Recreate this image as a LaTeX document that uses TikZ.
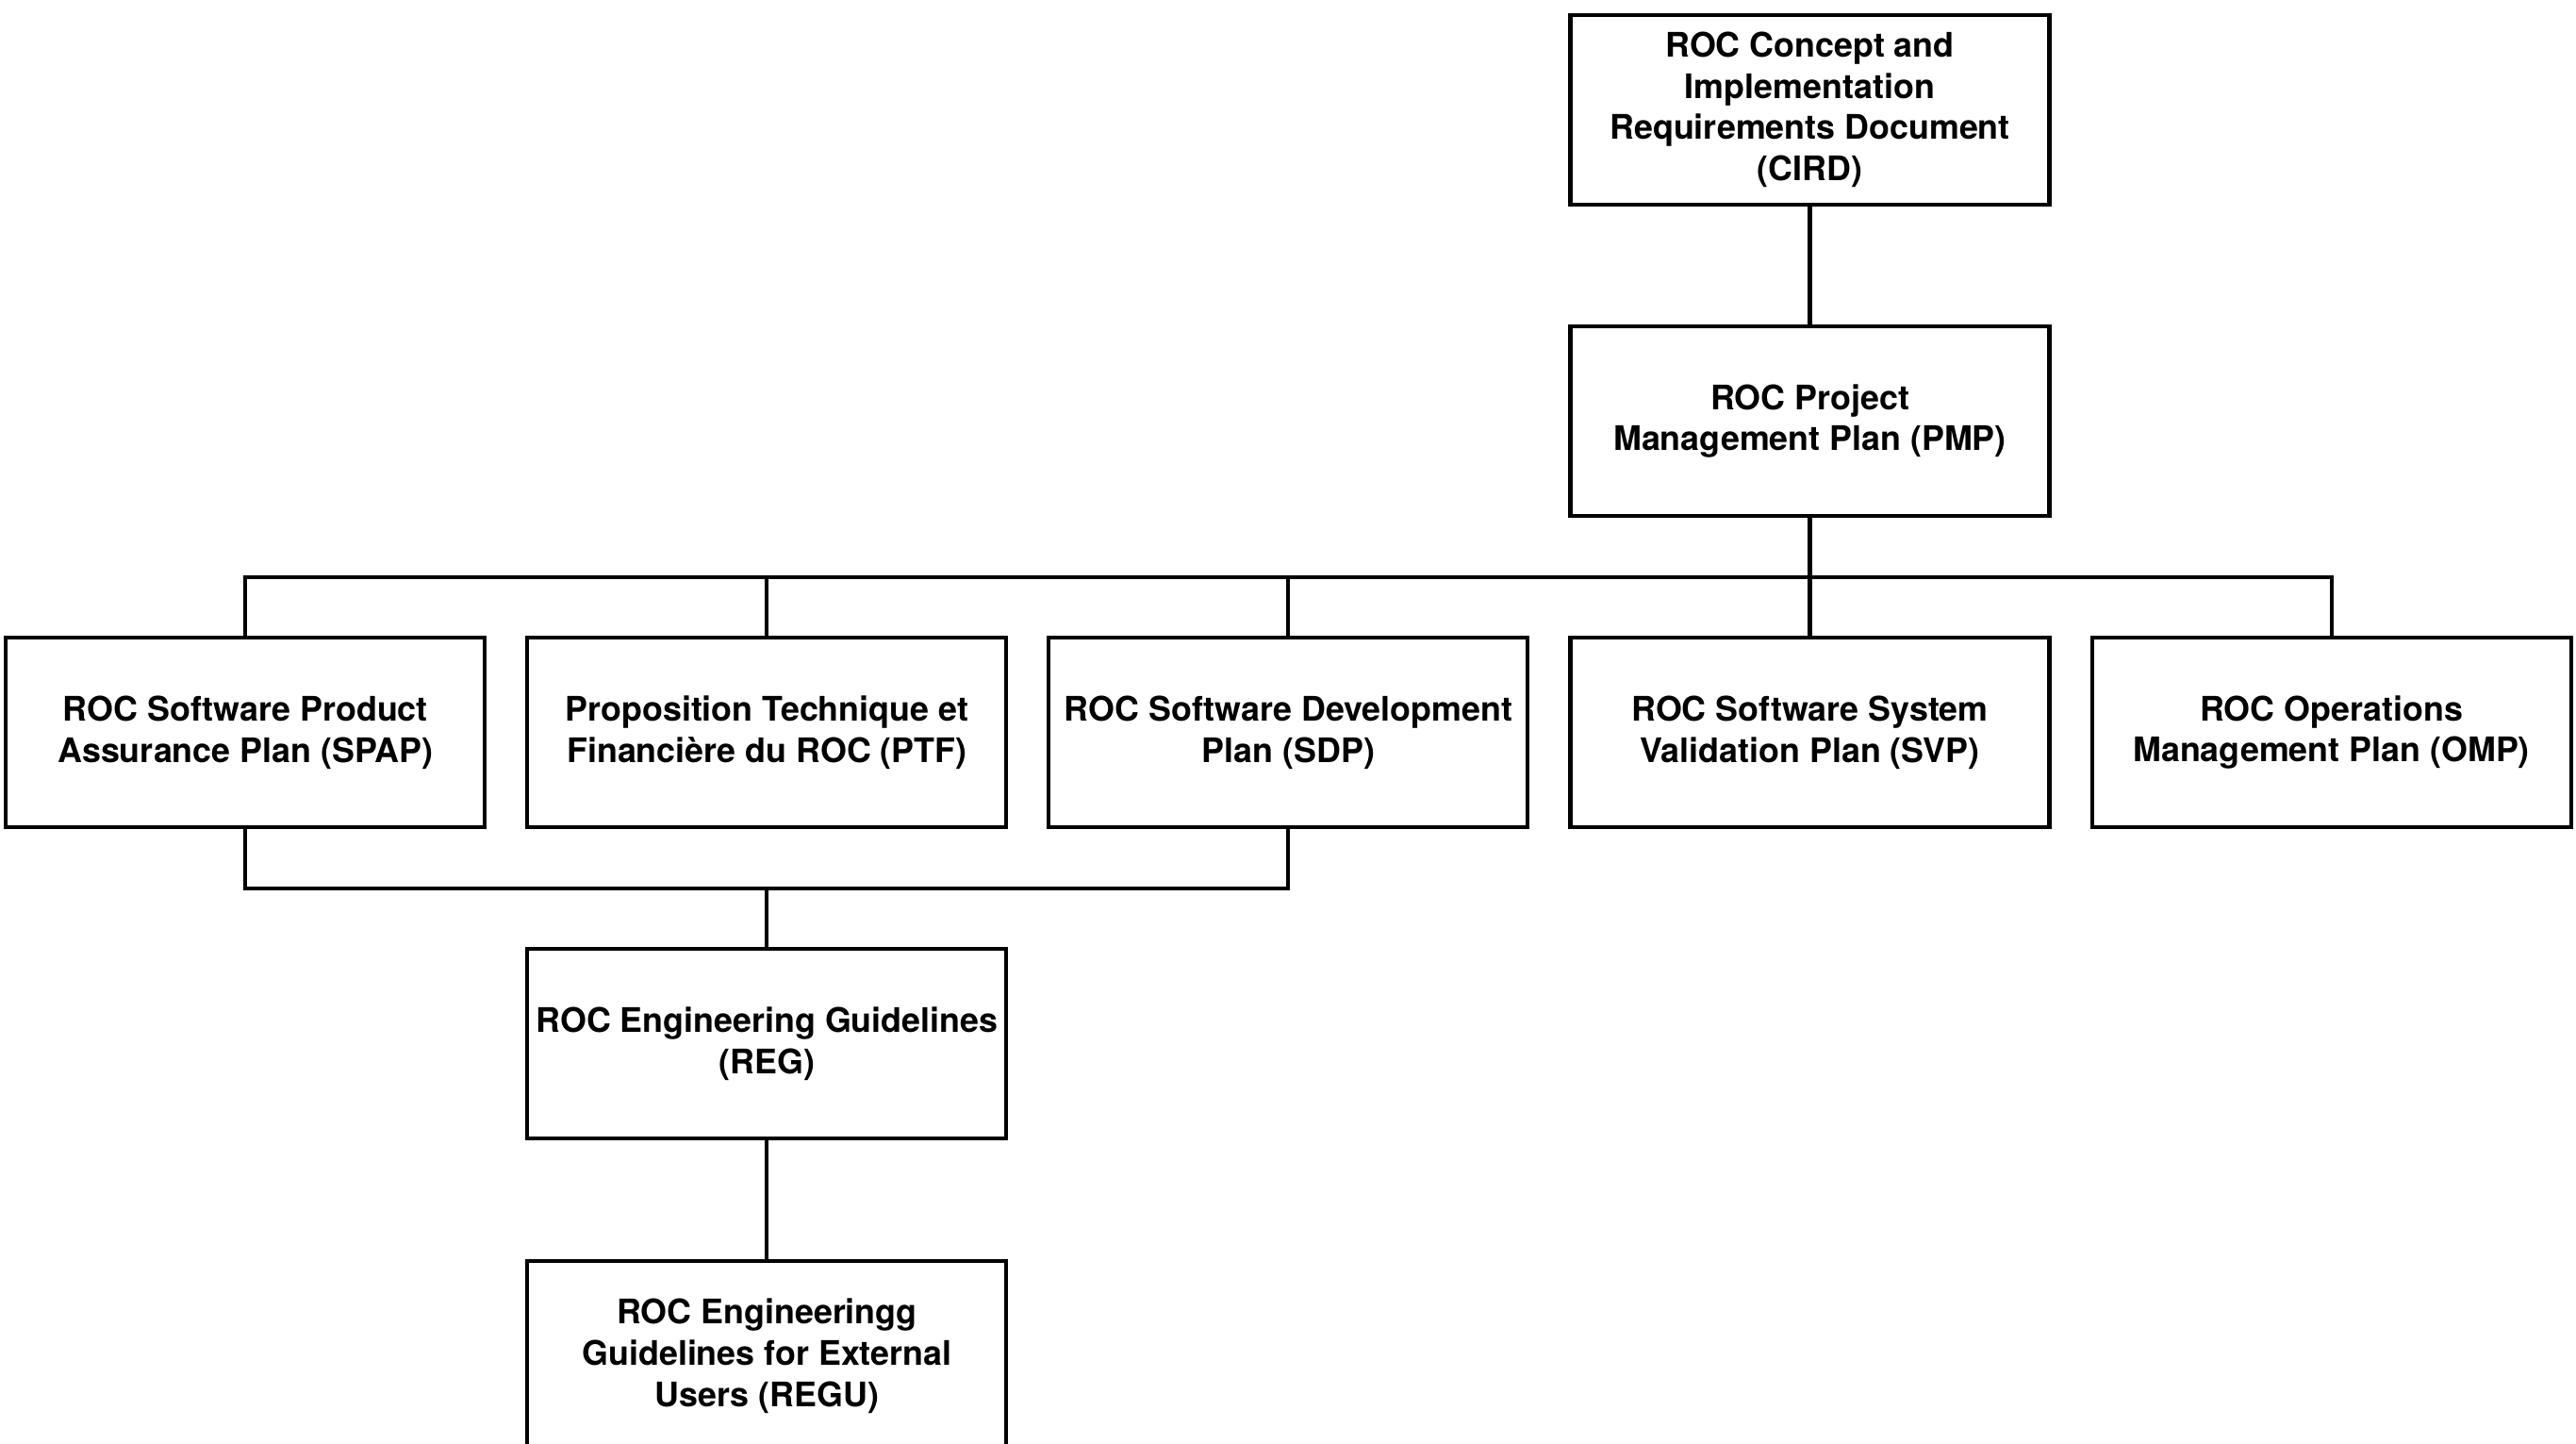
\documentclass[tikz,border=0pt]{standalone}
\usepackage{fontspec}
\setmainfont{TeX Gyre Heros}
\usetikzlibrary{positioning,calc}

\begin{document}
\begin{tikzpicture}[
  doc/.style={draw=black, line width=1.15pt, rectangle, minimum width=5.08cm, minimum height=2.01cm, inner xsep=1pt, align=center, font=\fontsize{10.2}{12.4}\selectfont\bfseries},
  link/.style={draw=black, line width=1.15pt}
]
\useasboundingbox (0,0) rectangle (27.32,-15.31);
\node[doc] (cird) at (19.195,-1.165) {ROC Concept and\\Implementation\\Requirements Document\\(CIRD)};
\node[doc, below=1.25cm of cird] (pmp) {ROC Project\\Management Plan (PMP)};
\node[doc, below=1.25cm of pmp] (svp) {ROC Software System\\Validation Plan (SVP)};
\node[doc, left=0.41cm of svp] (sdp) {ROC Software Development\\Plan (SDP)};
\node[doc, left=0.41cm of sdp] (ptf) {Proposition Technique et\\Financière du ROC (PTF)};
\node[doc, left=0.41cm of ptf] (spap) {ROC Software Product\\Assurance Plan (SPAP)};
\node[doc, right=0.41cm of svp] (omp) {ROC Operations\\Management Plan (OMP)};
\node[doc, below=1.25cm of ptf] (reg) {ROC Engineering Guidelines\\(REG)};
\node[doc, below=1.26cm of reg] (regu) {ROC Engineeringg\\Guidelines for External\\Users (REGU)};
\coordinate (bus) at ($(pmp.south)!0.5!(svp.north)$);
\coordinate (low) at ($(ptf.south)!0.5!(reg.north)$);
\draw[link] (cird) -- (pmp);
\draw[link] (pmp) -- (svp);
\draw[link] (spap.north) |- (bus) -| (omp.north);
\foreach \n in {ptf,sdp} \draw[link] (\n.north) -- (\n.north |- bus);
\draw[link] (spap.south) |- (low) -| (sdp.south);
\draw[link] (reg.north) -- (reg.north |- low);
\draw[link] (reg) -- (regu);
\end{tikzpicture}
\end{document}
